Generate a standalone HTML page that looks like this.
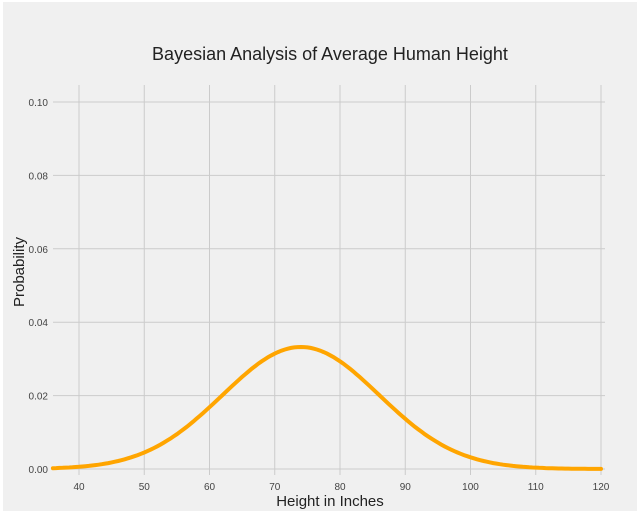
<!DOCTYPE html>
<html><head><meta charset="utf-8"><style>
html,body{margin:0;padding:0;background:#fff;}
svg{display:block;}
text{font-family:"Liberation Sans",sans-serif;}
</style></head><body>
<svg id="s" width="640" height="517" xmlns="http://www.w3.org/2000/svg">
<rect x="3" y="2" width="634" height="509" fill="#f0f0f0"/>
<g id="grid" stroke="#cbcbcb" stroke-width="1"></g>
<text x="330" y="60" font-size="18" fill="#222" text-anchor="middle">Bayesian Analysis of Average Human Height</text>
<text x="330" y="506" font-size="15" fill="#222" text-anchor="middle">Height in Inches</text>
<text transform="translate(24,272) rotate(-90)" font-size="15" fill="#222" text-anchor="middle">Probability</text>
<g id="lab" font-size="10" fill="#444"></g>
<path id="c" fill="none" stroke="#ffa500" stroke-width="4" stroke-linecap="round"/>
</svg>
<script>
var ns="http://www.w3.org/2000/svg";
function px(x){return 79+(x-40)*6.525;}
function py(y){return 469-y*3670;}
var g=document.getElementById('grid'),l=document.getElementById('lab');
function mk(p,t,a){var e=document.createElementNS(ns,t);for(var k in a)e.setAttribute(k,a[k]);p.appendChild(e);return e;}
for(var x=40;x<=120;x+=10){mk(g,'line',{x1:px(x),x2:px(x),y1:85,y2:475});var t=mk(l,'text',{x:px(x),y:490,'text-anchor':'middle'});t.textContent=x;}
for(var i=0;i<=5;i++){var y=i*0.02;mk(g,'line',{x1:53,x2:605,y1:py(y),y2:py(y)});var t=mk(l,'text',{x:48,y:py(y)+4,'text-anchor':'end'});t.textContent=y.toFixed(2);}
var d='',s=12,m=74;
for(var x=36;x<=120;x+=0.5){var y=Math.exp(-(x-m)*(x-m)/(2*s*s))/(s*Math.sqrt(2*Math.PI));d+=(d?'L':'M')+px(x).toFixed(1)+','+py(y).toFixed(1);}
document.getElementById('c').setAttribute('d',d);
</script>
</body></html>
